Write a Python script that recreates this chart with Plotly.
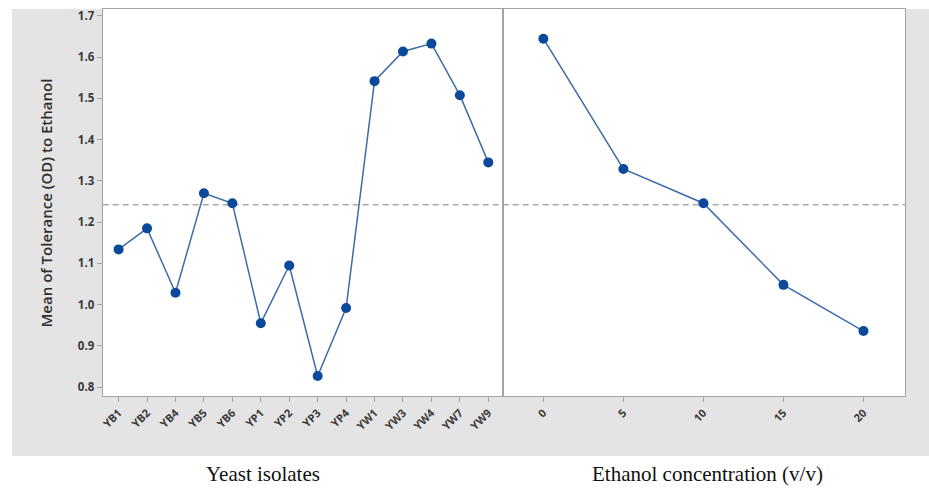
import plotly.graph_objects as go

# ---- data ----
isolates = ["YB1", "YB2", "YB4", "YB5", "YB6", "YP1", "YP2", "YP3", "YP4",
            "YW1", "YW3", "YW4", "YW7", "YW9"]
isolate_means = [1.134, 1.185, 1.029, 1.270, 1.246, 0.955, 1.095, 0.827, 0.992,
                 1.542, 1.614, 1.633, 1.508, 1.345]
ethanol_conc = [0, 5, 10, 15, 20]
ethanol_means = [1.645, 1.329, 1.246, 1.048, 0.936]
grand_mean = 1.242
y_ticks = [0.8, 0.9, 1.0, 1.1, 1.2, 1.3, 1.4, 1.5, 1.6, 1.7]

W, H = 929, 492
def px(x):
    return x / W
def py(y):
    return 1 - y / H

L, M, R = 100, 502, 905
T, B = 8, 396

line_col = "#3d6cab"
mark_col = "#0b4a9a"
frame_col = "#a3a3a3"
tick_font = dict(family="Open Sans, DejaVu Sans, sans-serif", size=11.5, color="#3a3a3a", weight=700)

fig = go.Figure()
fig.add_trace(go.Scatter(
    x=isolates, y=isolate_means, mode="lines+markers",
    line=dict(color=line_col, width=1.5),
    marker=dict(color=mark_col, size=10),
    xaxis="x", yaxis="y", showlegend=False))
fig.add_trace(go.Scatter(
    x=ethanol_conc, y=ethanol_means, mode="lines+markers",
    line=dict(color=line_col, width=1.5),
    marker=dict(color=mark_col, size=10),
    xaxis="x2", yaxis="y2", showlegend=False))

yr = [0.778, 1.717]
axis_common = dict(showline=True, mirror=True, linecolor=frame_col, linewidth=1.2,
                   showgrid=False, zeroline=False, fixedrange=True)

fig.update_layout(
    width=W, height=H,
    margin=dict(l=0, r=0, t=0, b=0),
    paper_bgcolor="white",
    plot_bgcolor="rgba(0,0,0,0)",
    xaxis=dict(domain=[px(L), px(M)], range=[-0.56, 13.53], type="category",
               ticks="outside", ticklen=5, tickcolor=frame_col, tickangle=-45,
               tickfont=dict(tick_font, size=11), anchor="y", **axis_common),
    yaxis=dict(domain=[py(B), py(T)], range=yr, tickvals=y_ticks,
               ticktext=[f"{v:.1f}" for v in y_ticks],
               ticks="outside", ticklen=5, tickcolor=frame_col,
               tickfont=tick_font, anchor="x", **axis_common),
    xaxis2=dict(domain=[px(M), px(R)], range=[-2.5, 22.6], tickvals=ethanol_conc,
                ticktext=[str(v) for v in ethanol_conc],
                ticks="outside", ticklen=5, tickcolor=frame_col, tickangle=-45,
                tickfont=dict(tick_font, size=11), anchor="y2", **axis_common),
    yaxis2=dict(domain=[py(B), py(T)], range=yr, showticklabels=False, ticks="",
                anchor="x2", **axis_common),
)

# gray background panel and white plotting area
fig.add_shape(type="rect", xref="paper", yref="paper", x0=px(9), x1=1.0,
              y0=py(456), y1=py(T), fillcolor="#e4e4e4", line=dict(width=0), layer="below")
fig.add_shape(type="rect", xref="paper", yref="paper", x0=px(L), x1=px(R),
              y0=py(B), y1=py(T), fillcolor="white", line=dict(width=0), layer="below")

# reference line (grand mean)
fig.add_shape(type="line", xref="paper", yref="y", x0=px(L), x1=px(R),
              y0=grand_mean, y1=grand_mean,
              line=dict(color="#a8a8a8", width=1.5, dash="6px,4px"), layer="below")

# titles
fig.add_annotation(text="Mean of Tolerance (OD) to Ethanol", xref="paper", yref="paper",
                   x=px(43), y=py(202), textangle=-90, showarrow=False,
                   font=dict(family="Open Sans, DejaVu Sans, sans-serif", size=15,
                             color="#2e2e2e", weight=600),
                   xanchor="center", yanchor="middle")
fig.add_annotation(text="Yeast isolates", xref="paper", yref="paper",
                   x=px(261), y=py(474), showarrow=False,
                   font=dict(family="Liberation Serif, Times New Roman, serif", size=21, color="#111111"),
                   xanchor="center", yanchor="middle")
fig.add_annotation(text="Ethanol concentration (v/v)", xref="paper", yref="paper",
                   x=px(707), y=py(474), showarrow=False,
                   font=dict(family="Liberation Serif, Times New Roman, serif", size=21, color="#111111"),
                   xanchor="center", yanchor="middle")

fig.write_html("out.html", config={"displayModeBar": False},
               post_script="document.body.style.margin='0';")
